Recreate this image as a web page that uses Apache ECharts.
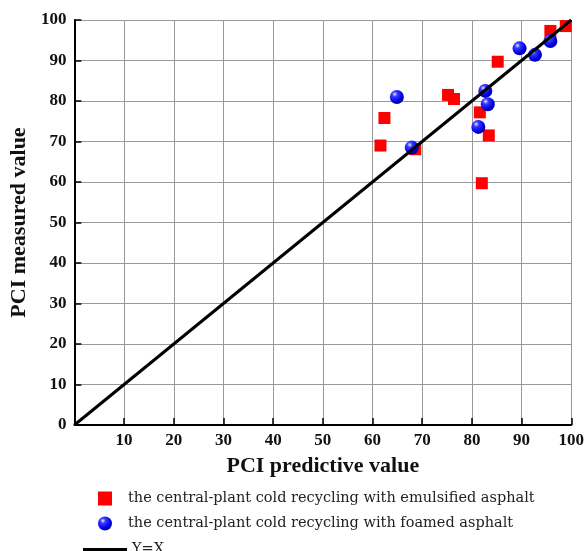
<!DOCTYPE html>
<html>
<head>
<meta charset="utf-8">
<script src="https://cdn.jsdelivr.net/npm/echarts@6/dist/echarts.min.js"></script>
<style>
  html, body { margin: 0; padding: 0; background: #fff; }
  #pciChart { width: 587px; height: 551px; }
</style>
</head>
<body>
<div id="pciChart"></div>
<script>
// PCI 预测值 vs 实测值
const emulsifiedPoints = [
  [98.9, 98.5], [95.8, 97.3], [85.2, 89.7], [75.2, 81.5], [76.4, 80.5],
  [62.4, 75.8], [81.6, 77.2], [83.4, 71.5], [61.6, 69.0], [68.6, 68.1],
  [82.0, 59.7]
]
const foamedPoints = [
  [95.8, 94.8], [92.7, 91.4], [89.6, 93.0], [82.7, 82.5], [83.2, 79.2],
  [81.3, 73.6], [64.9, 81.0], [67.9, 68.5]
]
const equalityLine = [[0, 0], [100, 100]]
const seriesNames = [
  'the central-plant cold recycling with emulsified asphalt',
  'the central-plant cold recycling with foamed asphalt',
  'Y=X'
]

let myChart = echarts.init(document.getElementById('pciChart'))
const serif = '"Liberation Serif", "DejaVu Serif", serif'
const legendFont = '"DejaVu Serif", "Liberation Serif", serif'
const sphere = new echarts.graphic.RadialGradient(0.35, 0.3, 0.75, [
  { offset: 0, color: '#e8e8ff' },
  { offset: 0.25, color: '#3a3aff' },
  { offset: 0.7, color: '#0000ee' },
  { offset: 1, color: '#00008a' }
])

let option = {
  animation: false,
  grid: { left: 69, right: 11, top: 20, bottom: 126 },
  xAxis: {
    type: 'value',
    min: 0,
    max: 100,
    interval: 10,
    name: 'PCI predictive value',
    nameLocation: 'middle',
    nameGap: 30,
    nameTextStyle: { fontFamily: serif, fontWeight: 'bold', fontSize: 22, color: '#111' },
    axisLine: { lineStyle: { color: '#000', width: 2 } },
    axisTick: { show: true, inside: true, length: 7, lineStyle: { color: '#000', width: 1.5 } },
    splitLine: { show: true, lineStyle: { color: '#999', width: 1 } },
    axisLabel: {
      fontFamily: serif, fontWeight: 'bold', fontSize: 17, color: '#111', margin: 7,
      formatter: (v) => v === 0 ? '' : v
    }
  },
  yAxis: {
    type: 'value',
    min: 0,
    max: 100,
    interval: 10,
    name: 'PCI measured value',
    nameLocation: 'middle',
    nameGap: 41,
    nameTextStyle: { fontFamily: serif, fontWeight: 'bold', fontSize: 22, color: '#111' },
    axisLine: { show: true, lineStyle: { color: '#000', width: 2 } },
    axisTick: { show: true, inside: true, length: 7, lineStyle: { color: '#000', width: 1.5 } },
    splitLine: { show: true, lineStyle: { color: '#999', width: 1 } },
    axisLabel: { fontFamily: serif, fontWeight: 'bold', fontSize: 17, color: '#111', margin: 8 }
  },
  legend: [
    {
      data: [seriesNames[0]],
      orient: 'vertical',
      left: 93,
      top: 486,
      itemWidth: 14,
      itemHeight: 14,
      textStyle: { fontFamily: legendFont, fontSize: 14.5, color: '#222', padding: [0, 0, 0, 11] }
    },
    {
      data: [seriesNames[1]],
      orient: 'vertical',
      left: 93,
      top: 511,
      itemWidth: 14,
      itemHeight: 14,
      textStyle: { fontFamily: legendFont, fontSize: 14.5, color: '#222', padding: [0, 0, 0, 11] }
    },
    {
      data: [{ name: seriesNames[2], icon: 'rect' }],
      orient: 'vertical',
      left: 78,
      top: 537,
      itemWidth: 44,
      itemHeight: 3,
      textStyle: { fontFamily: legendFont, fontSize: 14.5, color: '#222' }
    }
  ],
  series: [
    {
      name: seriesNames[0],
      type: 'scatter',
      symbol: 'rect',
      symbolSize: 12,
      itemStyle: { color: '#ff0000', opacity: 1 },
      data: emulsifiedPoints,
      z: 2
    },
    {
      name: seriesNames[1],
      type: 'scatter',
      symbol: 'circle',
      symbolSize: 14,
      itemStyle: { color: sphere, opacity: 1 },
      data: foamedPoints,
      z: 3
    },
    {
      name: seriesNames[2],
      type: 'line',
      symbol: 'none',
      lineStyle: { color: '#000', width: 3 },
      itemStyle: { color: '#000' },
      data: equalityLine,
      z: 4
    }
  ]
}
myChart.setOption(option)
</script>
</body>
</html>
